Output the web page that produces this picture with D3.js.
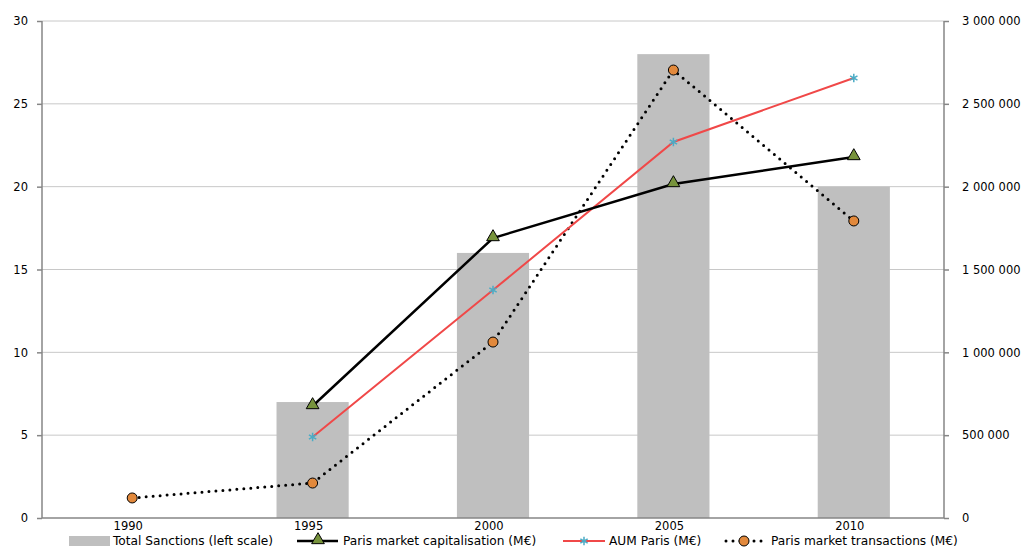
<!DOCTYPE html>
<html>
<head>
<meta charset="utf-8">
<script src="https://cdn.jsdelivr.net/npm/d3@7"></script>
<style>
  body { margin: 0; background: #fff; }
  text { font-family: "DejaVu Sans", Verdana, sans-serif; font-size: 12.2px; fill: #000; }
</style>
</head>
<body>
<div class="graph"></div>
<script>
const years = ['1990', '1995', '2000', '2005', '2010'];
const sanctions = [0, 7, 16, 28, 20];
const marketCap = [null, 676000, 1690000, 2016000, 2179000];
const aumParis = [null, 489000, 1376000, 2270000, 2656000];
const transactions = [121000, 211000, 1062000, 2704000, 1793000];
const leftTicks = [0, 5, 10, 15, 20, 25, 30];
const rightTicks = [0, 500000, 1000000, 1500000, 2000000, 2500000, 3000000];

function drawChart() {
  const w = 1026;
  const h = 549;
  const padding = { top: 21, right: 82, bottom: 31, left: 42 };

  const xScale = d3.scaleBand()
    .domain(years)
    .range([padding.left, w - padding.right]);
  const yLeft = d3.scaleLinear()
    .domain([0, 30])
    .range([h - padding.bottom, padding.top]);
  const yRight = d3.scaleLinear()
    .domain([0, 3000000])
    .range([h - padding.bottom, padding.top]);

  const svg = d3.select('.graph')
    .append('svg')
    .attr('width', w)
    .attr('height', h);

  // gridlines
  svg.append('g')
    .selectAll('line')
    .data(leftTicks.slice(1))
    .join('line')
    .attr('x1', padding.left)
    .attr('x2', w - padding.right)
    .attr('y1', (d) => yLeft(d))
    .attr('y2', (d) => yLeft(d))
    .attr('stroke', '#c8c8c8')
    .attr('stroke-width', 1);

  // bars
  const barW = xScale.bandwidth() * 0.4;
  svg.append('g')
    .selectAll('rect')
    .data(years.map((y, i) => ({ year: y, v: sanctions[i] })))
    .join('rect')
    .attr('x', (d) => xScale(d.year) + (xScale.bandwidth() - barW) / 2)
    .attr('y', (d) => yLeft(d.v))
    .attr('width', barW)
    .attr('height', (d) => yLeft(0) - yLeft(d.v))
    .attr('fill', '#bfbfbf');

  // axes
  const leftAxis = svg.append('g')
    .attr('transform', `translate(${padding.left}, 0)`)
    .call(d3.axisLeft(yLeft).tickValues(leftTicks).tickSize(5).tickPadding(9));
  const rightAxis = svg.append('g')
    .attr('transform', `translate(${w - padding.right}, 0)`)
    .call(d3.axisRight(yRight).tickValues(rightTicks).tickSize(5).tickPadding(13)
      .tickFormat((d) => d3.format(',')(d).replace(/,/g, ' ')));
  const bottomAxis = svg.append('g')
    .attr('transform', `translate(0, ${h - padding.bottom})`)
    .call(d3.axisBottom(xScale).tickSize(0).tickPadding(4));
  [leftAxis, rightAxis, bottomAxis].forEach((g) => {
    g.selectAll('path, line').attr('stroke', '#868686').attr('stroke-width', 1.5);
    g.selectAll('text').style('font-family', '"DejaVu Sans", Verdana, sans-serif').style('font-size', '11.5px').attr('fill', '#000');
  });
  bottomAxis.selectAll('text').attr('dx', -4);
  leftAxis.select('.domain').attr('d', `M0,${yLeft(0)}V${yLeft(30)}`);
  rightAxis.select('.domain').attr('d', `M0,${yRight(0)}V${yRight(3000000)}`);
  bottomAxis.select('.domain').attr('d', `M${padding.left},0H${w - padding.right}`);

  const cx = (y) => xScale(y) + xScale.bandwidth() / 2;
  const seriesLine = (vals) => d3.line()
    .defined((d) => d.v !== null)
    .x((d) => cx(d.year))
    .y((d) => yRight(d.v))(years.map((y, i) => ({ year: y, v: vals[i] })));
  const pts = (vals) => years.map((y, i) => ({ year: y, v: vals[i] })).filter((d) => d.v !== null);

  // transactions dotted
  svg.append('path')
    .attr('d', seriesLine(transactions))
    .attr('fill', 'none')
    .attr('stroke', '#000')
    .attr('stroke-width', 3)
    .attr('stroke-linecap', 'round')
    .attr('stroke-dasharray', '0 7');

  // AUM
  svg.append('path')
    .attr('d', seriesLine(aumParis))
    .attr('fill', 'none')
    .attr('stroke', '#f04848')
    .attr('stroke-width', 2);

  // market cap
  svg.append('path')
    .attr('d', seriesLine(marketCap))
    .attr('fill', 'none')
    .attr('stroke', '#000')
    .attr('stroke-width', 2.5);

  const tri = d3.symbol().type(d3.symbolTriangle).size(70);
  const star = d3.symbol().type(d3.symbolAsterisk).size(50);

  svg.append('g').selectAll('path')
    .data(pts(marketCap))
    .join('path')
    .attr('d', tri)
    .attr('transform', (d) => `translate(${cx(d.year)},${yRight(d.v) - 1})`)
    .attr('fill', '#77933c')
    .attr('stroke', '#000')
    .attr('stroke-width', 1);

  svg.append('g').selectAll('path')
    .data(pts(aumParis))
    .join('path')
    .attr('d', star)
    .attr('transform', (d) => `translate(${cx(d.year)},${yRight(d.v)})`)
    .attr('fill', 'none')
    .attr('stroke', '#4bacc6')
    .attr('stroke-width', 1.5);

  svg.append('g').selectAll('circle')
    .data(pts(transactions))
    .join('circle')
    .attr('cx', (d) => cx(d.year))
    .attr('cy', (d) => yRight(d.v))
    .attr('r', 5)
    .attr('fill', '#e2893c')
    .attr('stroke', '#000')
    .attr('stroke-width', 1);

  // legend
  const ly = 541;
  const legend = svg.append('g');
  legend.append('rect').attr('x', 69).attr('y', ly - 5).attr('width', 41).attr('height', 10).attr('fill', '#bfbfbf');
  legend.append('text').attr('x', 113).attr('y', ly + 4).text('Total Sanctions (left scale)');

  legend.append('line').attr('x1', 297).attr('x2', 338).attr('y1', ly).attr('y2', ly).attr('stroke', '#000').attr('stroke-width', 2.5);
  legend.append('path').attr('d', tri).attr('transform', `translate(318,${ly - 1})`).attr('fill', '#77933c').attr('stroke', '#000');
  legend.append('text').attr('x', 343).attr('y', ly + 4).text('Paris market capitalisation (M€)');

  legend.append('line').attr('x1', 563).attr('x2', 605).attr('y1', ly).attr('y2', ly).attr('stroke', '#f04848').attr('stroke-width', 2);
  legend.append('path').attr('d', star).attr('transform', `translate(584,${ly})`).attr('fill', 'none').attr('stroke', '#4bacc6').attr('stroke-width', 1.5);
  legend.append('text').attr('x', 609).attr('y', ly + 4).text('AUM Paris (M€)');

  legend.append('line').attr('x1', 726).attr('x2', 765).attr('y1', ly).attr('y2', ly).attr('stroke', '#000').attr('stroke-width', 3)
    .attr('stroke-linecap', 'round').attr('stroke-dasharray', '0 7');
  legend.append('circle').attr('cx', 744).attr('cy', ly).attr('r', 5).attr('fill', '#e2893c').attr('stroke', '#000');
  legend.append('text').attr('x', 771).attr('y', ly + 4).text('Paris market transactions (M€)');
}

drawChart();
</script>
</body>
</html>
